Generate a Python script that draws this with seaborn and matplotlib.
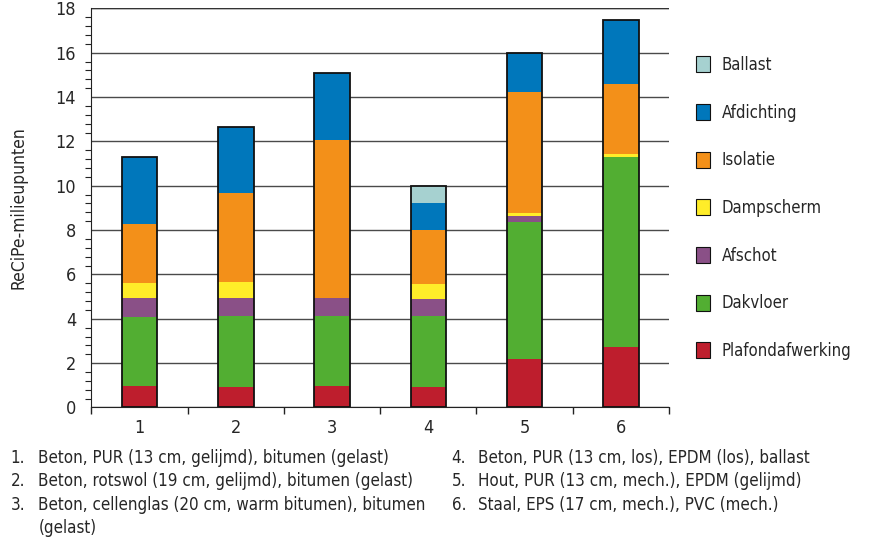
import numpy as np
import pandas as pd
import matplotlib
matplotlib.use("Agg")
import matplotlib.pyplot as plt
import seaborn as sns
from matplotlib.patches import Patch
from matplotlib.ticker import MultipleLocator, FixedLocator, NullFormatter

# roof variants 1..6
variants = ["1", "2", "3", "4", "5", "6"]

# layer contributions (ReCiPe points), bottom to top
plafondafwerking = [0.97, 0.92, 0.97, 0.92, 2.18, 2.72]
dakvloer = [3.11, 3.20, 3.15, 3.20, 6.19, 8.58]
afschot = [0.85, 0.81, 0.81, 0.77, 0.26, 0.00]
dampscherm = [0.68, 0.72, 0.00, 0.67, 0.15, 0.12]
isolatie = [2.66, 4.01, 7.12, 2.44, 5.45, 3.16]
afdichting = [3.03, 2.98, 3.02, 1.21, 1.77, 2.89]
ballast = [0.00, 0.00, 0.00, 0.79, 0.00, 0.00]

layer_names = ["Plafondafwerking", "Dakvloer", "Afschot", "Dampscherm",
               "Isolatie", "Afdichting", "Ballast"]
layer_values = [plafondafwerking, dakvloer, afschot, dampscherm,
                isolatie, afdichting, ballast]
layer_colors = ["#BE1E2D", "#52AE32", "#8A5087", "#FFED29",
                "#F39019", "#0077BB", "#A6D1D0"]

notes_left = [
    ("1.", "Beton, PUR (13 cm, gelijmd), bitumen (gelast)"),
    ("2.", "Beton, rotswol (19 cm, gelijmd), bitumen (gelast)"),
    ("3.", "Beton, cellenglas (20 cm, warm bitumen), bitumen"),
    ("", "(gelast)"),
]
notes_right = [
    ("4.", "Beton, PUR (13 cm, los), EPDM (los), ballast"),
    ("5.", "Hout, PUR (13 cm, mech.), EPDM (gelijmd)"),
    ("6.", "Staal, EPS (17 cm, mech.), PVC (mech.)"),
]

sns.set_style("white")
plt.rcParams["font.family"] = ["DejaVu Sans"]
plt.rcParams["font.stretch"] = "condensed"

fig = plt.figure(figsize=(8.7, 5.46), dpi=100)
ax = fig.add_axes([0.105, 0.2537, 0.664, 0.731])

bar_width = 0.37
bottom = np.zeros(len(variants))
for name, vals, col in zip(layer_names, layer_values, layer_colors):
    vals = np.array(vals)
    sns.barplot(x=variants, y=vals, bottom=bottom, color=col, width=bar_width,
                saturation=1, errorbar=None, linewidth=0, ax=ax, zorder=3)
    bottom = bottom + vals

# outline around each stacked bar
sns.barplot(x=variants, y=bottom, fill=False, edgecolor="#111111", linewidth=1.3,
            width=bar_width, errorbar=None, ax=ax, zorder=4)

ax.set_xlim(-0.5, 5.5)
ax.set_ylim(0, 18)
ax.yaxis.set_major_locator(MultipleLocator(2))
ax.yaxis.set_minor_locator(MultipleLocator(0.4))
ax.grid(axis="y", color="#4a4a4a", linewidth=1.0, zorder=0)
ax.axhline(18, color="#333333", linewidth=1.0, zorder=1)

for s in ["top", "right"]:
    ax.spines[s].set_visible(False)
ax.spines["left"].set_color("#222222")
ax.spines["bottom"].set_color("#222222")

ax.tick_params(axis="y", which="major", direction="inout", length=10, width=1,
               color="#222222", labelsize=13, pad=6)
ax.tick_params(axis="y", which="minor", direction="out", length=4, width=0.8,
               color="#222222", left=True)
ax.xaxis.set_minor_locator(FixedLocator(np.arange(-0.5, 6.0, 1.0)))
ax.xaxis.set_minor_formatter(NullFormatter())
ax.tick_params(axis="x", which="major", length=0, labelsize=13, pad=8)
ax.tick_params(axis="x", which="minor", direction="out", length=5, width=1,
               color="#222222", bottom=True)
ax.set_xlabel("")
ax.set_ylabel("ReCiPe-milieupunten", fontsize=12.5, labelpad=20)

handles = [Patch(facecolor=c, edgecolor="#111111", linewidth=0.8)
           for c in layer_colors[::-1]]
fig.legend(handles, layer_names[::-1], loc="upper left",
           bbox_to_anchor=(0.783, 0.925), frameon=False, fontsize=12,
           handlelength=0.85, handleheight=1.1, handletextpad=0.67,
           labelspacing=1.78)

y0 = 0.161
step = 0.0427
for i, (num, txt) in enumerate(notes_left):
    fig.text(0.012, y0 - i * step, num, fontsize=12.2, va="center")
    fig.text(0.044, y0 - i * step, txt, fontsize=12.2, va="center")
for i, (num, txt) in enumerate(notes_right):
    fig.text(0.519, y0 - i * step, num, fontsize=12.2, va="center")
    fig.text(0.549, y0 - i * step, txt, fontsize=12.2, va="center")

fig.savefig("out.png", dpi=100)
